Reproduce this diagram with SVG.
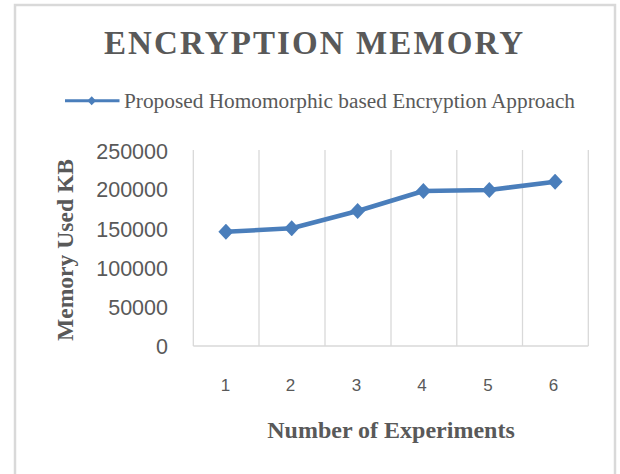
<svg xmlns="http://www.w3.org/2000/svg" width="620" height="474" viewBox="0 0 620 474">
  <defs>
    <style>
      .frame { fill: #ffffff; stroke: #d9d9d9; stroke-width: 2.5; }
      .grid { stroke: #d9d9d9; stroke-width: 1.3; fill: none; }
      .title { font-family: "Liberation Serif", "Times New Roman", serif; font-weight: bold; font-size: 33px; fill: #595959; }
      .legend { font-family: "Liberation Serif", "Times New Roman", serif; font-size: 21.3px; fill: #595959; }
      .axis-title { font-family: "Liberation Serif", "Times New Roman", serif; font-weight: bold; font-size: 24px; fill: #595959; }
      .ylab { font-family: "Liberation Sans", Arial, sans-serif; font-size: 21.5px; fill: #595959; text-anchor: end; }
      .xlab { font-family: "Liberation Sans", Arial, sans-serif; font-size: 17px; fill: #595959; text-anchor: middle; }
      .series { stroke: #4a7ebb; stroke-width: 4.5; fill: none; stroke-linejoin: round; }
      .marker { fill: #4a7ebb; }
    </style>
    <marker id="diamond" viewBox="-8 -8 16 16" markerWidth="16" markerHeight="16" markerUnits="userSpaceOnUse" refX="0" refY="0" orient="0">
      <path d="M0,-8 L7.5,0 L0,8 L-7.5,0 Z" class="marker"/>
    </marker>
  </defs>

  <rect class="frame" x="15" y="5" width="600" height="480"/>

  <g id="title">
    <text class="title" x="104" y="54" textLength="419">ENCRYPTION MEMORY</text>
  </g>

  <g id="legend">
    <line x1="65" y1="100.7" x2="119.5" y2="100.7" stroke="#4a7ebb" stroke-width="3"/>
    <path d="M91.7,96.2 L96,100.7 L91.7,105.2 L87.4,100.7 Z" class="marker"/>
    <text class="legend" x="124" y="107.7" textLength="451">Proposed Homomorphic based Encryption Approach</text>
  </g>

  <g id="gridlines">
    <line class="grid" x1="193.3" y1="150" x2="193.3" y2="346"/>
    <line class="grid" x1="259" y1="150" x2="259" y2="346"/>
    <line class="grid" x1="325" y1="150" x2="325" y2="346"/>
    <line class="grid" x1="391" y1="150" x2="391" y2="346"/>
    <line class="grid" x1="456.8" y1="150" x2="456.8" y2="346"/>
    <line class="grid" x1="522.5" y1="150" x2="522.5" y2="346"/>
    <line class="grid" x1="588.3" y1="150" x2="588.3" y2="346"/>
    <line class="grid" x1="193.3" y1="346" x2="588.3" y2="346"/>
  </g>

  <g id="y-axis">
    <text class="ylab" x="168" y="158.5">250000</text>
    <text class="ylab" x="168" y="197.3">200000</text>
    <text class="ylab" x="168" y="236.5">150000</text>
    <text class="ylab" x="168" y="275.7">100000</text>
    <text class="ylab" x="168" y="314.9">50000</text>
    <text class="ylab" x="168" y="354">0</text>
    <text class="axis-title" transform="translate(72.5,250) rotate(-90)" text-anchor="middle" style="font-size:23.6px">Memory Used KB</text>
  </g>

  <g id="x-axis">
    <text class="xlab" x="225.5" y="390.7">1</text>
    <text class="xlab" x="290.5" y="390.7">2</text>
    <text class="xlab" x="356.5" y="390.7">3</text>
    <text class="xlab" x="422" y="390.7">4</text>
    <text class="xlab" x="488" y="390.7">5</text>
    <text class="xlab" x="553.5" y="390.7">6</text>
    <text class="axis-title" x="391" y="438.3" text-anchor="middle">Number of Experiments</text>
  </g>

  <g id="connectors">
    <polyline class="series" points="225.9,231.7 291.7,228.3 357.6,211 423.4,191 489.3,190 555.1,181.7" marker-start="url(#diamond)" marker-mid="url(#diamond)" marker-end="url(#diamond)"/>
  </g>
</svg>
